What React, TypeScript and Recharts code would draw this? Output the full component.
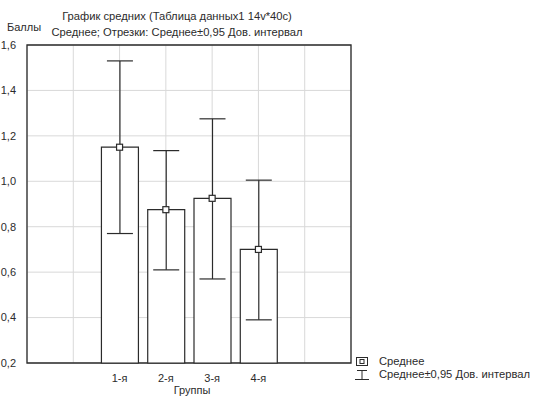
import React from 'react';
import { ComposedChart, Bar, Line, XAxis, YAxis, CartesianGrid, ErrorBar, ReferenceArea } from 'recharts';

const groups = ['1-я', '2-я', '3-я', '4-я'];
const groupPos = [2, 3, 4, 5];
const means = [1.15, 0.875, 0.925, 0.7];
const ciLow = [0.77, 0.61, 0.57, 0.39];
const ciHigh = [1.53, 1.135, 1.275, 1.005];
const yTicks = [0.2, 0.4, 0.6, 0.8, 1.0, 1.2, 1.4, 1.6];
const xTicks = [1, 2, 3, 4, 5, 6];

const data = groups.map((g, i) => ({
    name: g,
    x: groupPos[i],
    mean: means[i],
    err: [means[i] - ciLow[i], ciHigh[i] - means[i]],
}));

const FONT = '"Liberation Sans", Arial, sans-serif';
const INK = '#2b2b2b';

const MeanDot = (props: any) => {
    const { cx, cy, index } = props;
    if (cx == null || cy == null) return <g key={`d-${index}`} />;
    return <rect key={`d-${index}`} x={cx - 3} y={cy - 3} width={6} height={6} fill="#fff" stroke={INK} strokeWidth={1.2} />;
};

const fmt = (v: number) => v.toFixed(1).replace('.', ',');

export default function App() {
    return (
        <div style={{ position: 'absolute', left: 0, top: 0, width: 533, height: 400, fontFamily: FONT, color: INK, background: '#fff' }}>
            <ComposedChart width={533} height={400} data={data} margin={{ top: 45, right: 182, bottom: 0, left: 0 }}>
                <CartesianGrid stroke="#d9d9d9" strokeWidth={1} />
                <XAxis
                    type="number"
                    dataKey="x"
                    domain={[0, 7]}
                    ticks={xTicks}
                    height={37}
                    axisLine={false}
                    tickLine={false}
                    tickMargin={5}
                    tick={{ fill: INK, fontSize: 11, fontFamily: FONT }}
                    tickFormatter={(v: number) => groups[groupPos.indexOf(v)] ?? ''}
                />
                <YAxis
                    type="number"
                    domain={[0.2, 1.6]}
                    ticks={yTicks}
                    width={27}
                    axisLine={false}
                    tickLine={false}
                    tickMargin={5}
                    tick={{ fill: INK, fontSize: 11, fontFamily: FONT }}
                    tickFormatter={fmt}
                />
                <ReferenceArea x1={0} x2={7} y1={0.2} y2={1.6} fill="none" stroke={INK} strokeWidth={1.3} ifOverflow="visible" />
                <Bar dataKey="mean" barSize={37} fill="#fff" stroke={INK} strokeWidth={1.2} isAnimationActive={false}>
                    <ErrorBar dataKey="err" width={13} stroke={INK} strokeWidth={1.2} direction="y" />
                </Bar>
                <Line dataKey="mean" stroke="none" dot={MeanDot} activeDot={false} isAnimationActive={false} />
            </ComposedChart>

            <div style={{ position: 'absolute', left: 0, width: 354, top: 8, textAlign: 'center', fontSize: 11.2, lineHeight: '16px', whiteSpace: 'nowrap' }}>
                <div>График средних (Таблица данных1 14v*40c)</div>
                <div>Среднее; Отрезки: Среднее±0,95 Дов. интервал</div>
            </div>
            <div style={{ position: 'absolute', left: 7, top: 21, fontSize: 11 }}>Баллы</div>
            <div style={{ position: 'absolute', left: 27, width: 330, top: 384, textAlign: 'center', fontSize: 11 }}>Группы</div>

            <div style={{ position: 'absolute', left: 355, top: 355, fontSize: 11.2, lineHeight: '13px', whiteSpace: 'nowrap' }}>
                <div style={{ display: 'flex', alignItems: 'center' }}>
                    <svg width={14} height={11} style={{ marginRight: 10 }}>
                        <rect x={1.5} y={1.5} width={11} height={8} fill="#fff" stroke={INK} strokeWidth={1} />
                        <rect x={5} y={3.5} width={4} height={4} fill="#fff" stroke={INK} strokeWidth={1} />
                    </svg>
                    <span>Среднее</span>
                </div>
                <div style={{ display: 'flex', alignItems: 'center' }}>
                    <svg width={14} height={12} style={{ marginRight: 10 }}>
                        <line x1={2} y1={1.5} x2={12} y2={1.5} stroke={INK} strokeWidth={1} />
                        <line x1={7} y1={1.5} x2={7} y2={10.5} stroke={INK} strokeWidth={1} />
                        <line x1={0} y1={10.5} x2={14} y2={10.5} stroke={INK} strokeWidth={1} />
                    </svg>
                    <span>Среднее±0,95 Дов. интервал</span>
                </div>
            </div>
        </div>
    );
}
